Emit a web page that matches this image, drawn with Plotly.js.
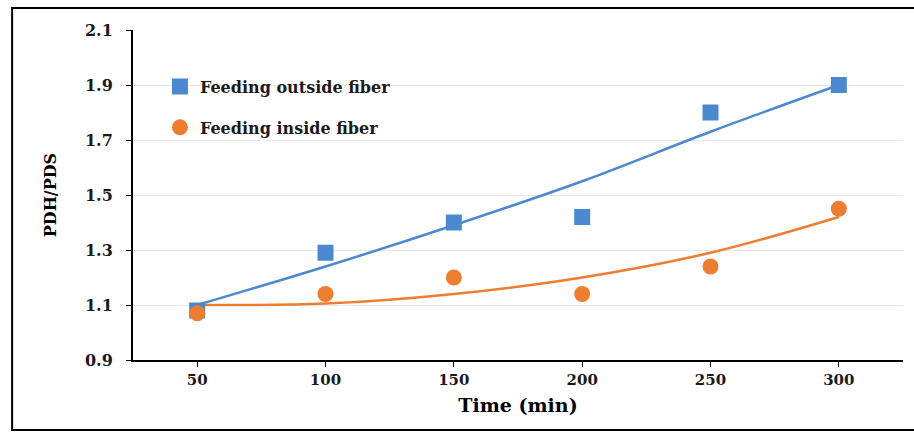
<!DOCTYPE html>
<html>
<head>
<meta charset="utf-8">
<script src="https://cdn.plot.ly/plotly-3.0.1.min.js"></script>
<style>html,body{margin:0;padding:0;background:#fff;}#chart{width:914px;height:432px;}</style>
</head>
<body>
<div id="chart"></div>
<script>
// Data
var time = [50, 100, 150, 200, 250, 300];
var outsideFiber = [1.08, 1.29, 1.40, 1.42, 1.80, 1.90];
var insideFiber = [1.07, 1.14, 1.20, 1.14, 1.24, 1.45];
// Trend lines
var outsideTrend = [1.10, 1.24, 1.39, 1.55, 1.73, 1.90];
var insideTrend = [1.10, 1.105, 1.14, 1.20, 1.29, 1.42];
var yTicks = [0.9, 1.1, 1.3, 1.5, 1.7, 1.9, 2.1];
var xTicks = [50, 100, 150, 200, 250, 300];

var blue = '#4A89CF', orange = '#ED7D31';
var serif = 'DejaVu Serif, Liberation Serif, serif';

var traces = [
  {x: time, y: outsideTrend, mode: 'lines', line: {color: blue, width: 2.5, shape: 'spline'}, showlegend: false, hoverinfo: 'skip'},
  {x: time, y: insideTrend, mode: 'lines', line: {color: orange, width: 2.5, shape: 'spline'}, showlegend: false, hoverinfo: 'skip'},
  {x: time, y: outsideFiber, mode: 'markers', name: 'Feeding outside fiber', legendgroup: 'a', marker: {symbol: 'square', size: 16, color: blue}},
  {x: time, y: insideFiber, mode: 'markers', name: 'Feeding inside fiber', legendgroup: 'b', marker: {symbol: 'circle', size: 16, color: orange}}
];

var layout = {
  width: 914, height: 432,
  margin: {l: 133, r: 11, t: 30, b: 72},
  paper_bgcolor: '#fff', plot_bgcolor: '#fff',
  showlegend: true,
  legend: {x: 0.035, y: 0.88, xanchor: 'left', yanchor: 'top', bgcolor: 'rgba(0,0,0,0)',
           font: {family: serif, size: 16, weight: 'bold', color: '#1a1a1a'}, tracegroupgap: 17},
  xaxis: {
    range: [25, 325], tickvals: xTicks, ticktext: xTicks.map(String),
    showline: true, linecolor: '#000', linewidth: 2, ticks: 'outside', ticklen: 5, tickcolor: '#000',
    showgrid: false, zeroline: false,
    tickfont: {family: serif, size: 15, weight: 'bold', color: '#1a1a1a'},
    title: {text: 'Time (min)', font: {family: serif, size: 19, weight: 'bold', color: '#000'}, standoff: 11}
  },
  yaxis: {
    range: [0.9, 2.1], tickvals: yTicks, ticktext: yTicks.map(function(v){return v.toFixed(1);}),
    showline: true, linecolor: '#000', linewidth: 2, ticks: 'outside', ticklen: 5, tickcolor: '#000',
    ticklabelstandoff: 10,
    showgrid: true, gridcolor: '#e8e8e8', gridwidth: 1, zeroline: false,
    tickfont: {family: serif, size: 16, weight: 'bold', color: '#1a1a1a'},
    title: {text: 'PDH/PDS', font: {family: serif, size: 16, weight: 'bold', color: '#000'}, standoff: 24}
  },
  shapes: [
    {type: 'rect', xref: 'paper', yref: 'paper', x0: -0.157, x1: 1.03, y0: -0.212, y1: 1.067,
     line: {color: '#000', width: 2}, fillcolor: 'rgba(0,0,0,0)'}
  ]
};

Plotly.newPlot('chart', traces, layout, {displayModeBar: false, staticPlot: true});
</script>
</body>
</html>
